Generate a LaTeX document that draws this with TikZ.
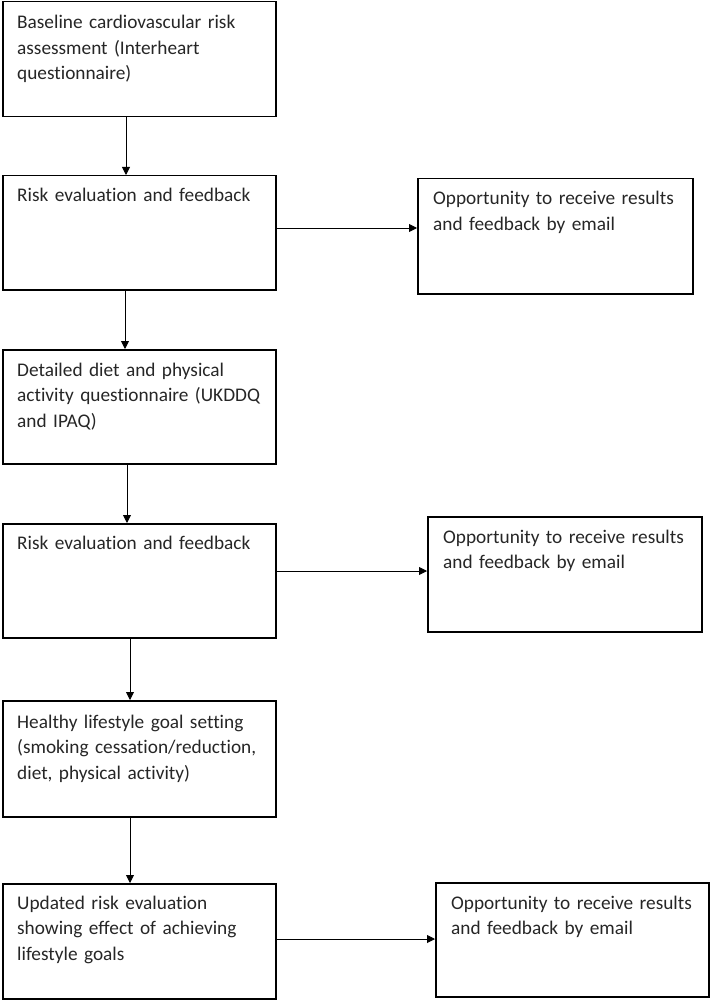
\documentclass[tikz,border=0pt]{standalone}
\usepackage{fontspec}
\setmainfont{Carlito}[Ligatures={NoCommon}]
\usetikzlibrary{arrows.meta}
\begin{document}
\begin{tikzpicture}[x=1pt,y=-1pt,
  box/.style={draw=black, line width=1.5pt, rectangle, anchor=north west, inner sep=0},
  txt/.style={anchor=base west, inner sep=0, align=left, text width=262pt,
    font=\fontsize{19.3}{25.5}\selectfont, text=black!85},
  arr/.style={line width=0.9pt, -{Triangle[length=8pt,width=8pt]}}]
\useasboundingbox (0,0) rectangle (711,1000);
% left column
\node[box, minimum width=273pt, minimum height=115pt] (b1) at (2,1) {};
\node[box, minimum width=273pt, minimum height=114pt] (b2) at (2,175) {};
\node[box, minimum width=273pt, minimum height=114pt] (b3) at (2,349) {};
\node[box, minimum width=273pt, minimum height=114pt] (b4) at (2,523) {};
\node[box, minimum width=273pt, minimum height=116pt] (b5) at (2,700) {};
\node[box, minimum width=273pt, minimum height=115pt] (b6) at (2,883) {};
% right column
\node[box, minimum width=275pt, minimum height=115pt] (r1) at (417,178) {};
\node[box, minimum width=274pt, minimum height=115pt] (r2) at (427,516) {};
\node[box, minimum width=273pt, minimum height=114pt] (r3) at (435,882) {};
% texts
\node[txt] (t1) at ([xshift=15pt,yshift=-28pt]b1.north west) {Baseline cardiovascular risk\\assessment (Interheart\\questionnaire)};
\node[txt] (t2) at ([xshift=15pt,yshift=-27pt]b2.north west) {Risk evaluation and feedback};
\node[txt] (t3) at ([xshift=15pt,yshift=-27pt]b3.north west) {Detailed diet and physical\\activity questionnaire (UKDDQ\\and IPAQ)};
\node[txt] (t4) at ([xshift=15pt,yshift=-26pt]b4.north west) {Risk evaluation and feedback};
\node[txt] (t5) at ([xshift=15pt,yshift=-28pt]b5.north west) {Healthy lifestyle goal setting\\(smoking cessation/reduction,\\diet, physical activity)};
\node[txt] (t6) at ([xshift=15pt,yshift=-26pt]b6.north west) {Updated risk evaluation\\showing effect of achieving\\lifestyle goals};
\node[txt] (s1) at ([xshift=16pt,yshift=-27pt]r1.north west) {Opportunity to receive results\\and feedback by email};
\node[txt] (s2) at ([xshift=16pt,yshift=-27pt]r2.north west) {Opportunity to receive results\\and feedback by email};
\node[txt] (s3) at ([xshift=16pt,yshift=-27pt]r3.north west) {Opportunity to receive results\\and feedback by email};
% vertical arrows
\draw[arr] ([xshift=124pt]b1.south west) -- ([xshift=124pt]b2.north west);
\draw[arr] ([xshift=123pt]b2.south west) -- ([xshift=123pt]b3.north west);
\draw[arr] ([xshift=125pt]b3.south west) -- ([xshift=125pt]b4.north west);
\draw[arr] ([xshift=128pt]b4.south west) -- ([xshift=128pt]b5.north west);
\draw[arr] ([xshift=128pt]b5.south west) -- ([xshift=128pt]b6.north west);
% horizontal arrows
\draw[arr] ([yshift=-53pt]b2.north east) coordinate (h1) -- (h1 -| r1.west);
\draw[arr] ([yshift=-48pt]b4.north east) coordinate (h2) -- (h2 -| r2.west);
\draw[arr] ([yshift=-56pt]b6.north east) coordinate (h3) -- (h3 -| r3.west);
\end{tikzpicture}
\end{document}
